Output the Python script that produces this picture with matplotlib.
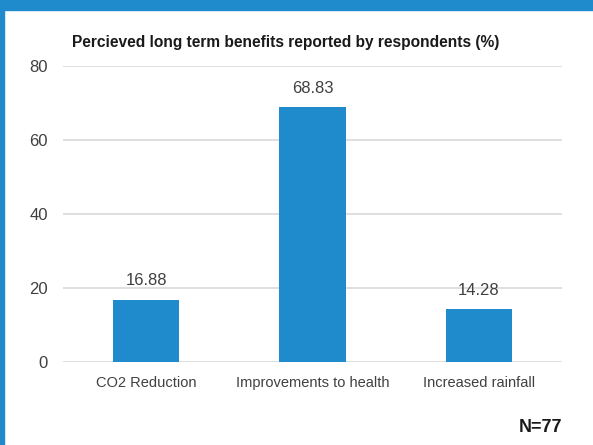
import matplotlib.pyplot as plt
from matplotlib.patches import Rectangle

# data
categories = ['CO2 Reduction', 'Improvements to health', 'Increased rainfall']
values = [16.88, 68.83, 14.28]
yticks = [0, 20, 40, 60, 80]

plt.rcParams['font.family'] = ['Liberation Sans', 'DejaVu Sans']

blue = '#1f8bcc'

fig = plt.figure(figsize=(5.93, 4.45), dpi=100)

# frame: blue top band and left edge
fig.patches.append(Rectangle((0, 1 - 10 / 445), 1, 10 / 445, transform=fig.transFigure,
                             color=blue, zorder=0))
fig.patches.append(Rectangle((0, 0), 4 / 593, 1, transform=fig.transFigure,
                             color=blue, zorder=0))

ax = fig.add_axes([63 / 593, 1 - 362 / 445, 499 / 593, 296 / 445])
x = range(len(categories))
bars = ax.bar(x, values, width=0.4, color=blue, zorder=3)
ax.set_xlim(-0.5, 2.5)
ax.set_ylim(0, 80)
ax.set_yticks(yticks)
ax.set_xticks(list(x))
ax.set_xticklabels(categories)
ax.grid(axis='y', color='#d9d9d9', linewidth=1.2, zorder=0)
for s in ax.spines.values():
    s.set_visible(False)
ax.tick_params(length=0, labelcolor='#404040')
ax.tick_params(axis='x', pad=10, labelsize=10.5)
ax.tick_params(axis='y', pad=11, labelsize=12)

for b, v in zip(bars, values):
    ax.annotate(f'{v:.2f}', (b.get_x() + b.get_width() / 2, v), xytext=(0, 8),
                textcoords='offset points', ha='center', va='bottom',
                fontsize=12, color='#404040')

fig.text(72 / 593, 1 - 42 / 445, 'Percieved long term benefits reported by respondents (%)',
         fontsize=11.2, fontweight='bold', color='#1a1a1a', va='center', ha='left')
fig.text(562 / 593, 1 - 428 / 445, 'N=77', fontsize=13, fontweight='bold',
         color='#1a1a1a', va='center', ha='right')

fig.savefig('out.png', dpi=100)
